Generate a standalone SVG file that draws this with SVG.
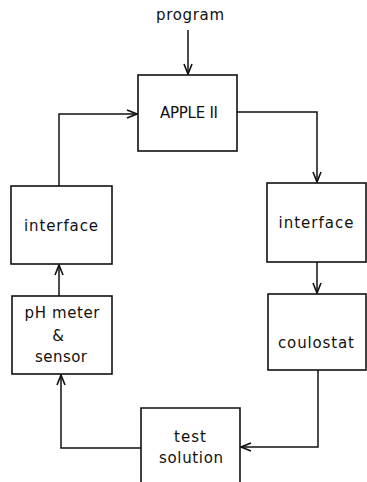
<svg xmlns="http://www.w3.org/2000/svg" width="367" height="482" viewBox="0 0 367 482">
<style>
.box{fill:none;stroke:#111;stroke-width:1.6}
.ln{fill:none;stroke:#111;stroke-width:1.5}
text{font-family:"DejaVu Sans","Liberation Sans",sans-serif;font-size:15px;fill:#111;text-anchor:middle}
</style>
<defs>
<marker id="arr" viewBox="0 0 12 10" refX="11" refY="5" markerWidth="12" markerHeight="10" markerUnits="userSpaceOnUse" orient="auto">
<path d="M1,1 L11,5 L1,9" fill="none" stroke="#111" stroke-width="1.6"/>
</marker>
</defs>
<rect width="367" height="482" fill="#fff"/>
<g id="program"><text x="190" y="20" textLength="68" lengthAdjust="spacing">program</text></g>
<g id="apple"><rect class="box" x="138" y="75" width="99" height="76"/><text x="189" y="118" textLength="58" lengthAdjust="spacing">APPLE II</text></g>
<g id="interface-left"><rect class="box" x="11" y="186" width="101" height="78"/><text x="61" y="231" textLength="74" lengthAdjust="spacing">interface</text></g>
<g id="interface-right"><rect class="box" x="267" y="183" width="99" height="79"/><text x="316" y="228" textLength="75" lengthAdjust="spacing">interface</text></g>
<g id="coulostat"><rect class="box" x="268" y="294" width="98" height="76"/><text x="316" y="348" textLength="76" lengthAdjust="spacing">coulostat</text></g>
<g id="ph"><rect class="box" x="12" y="296" width="100" height="78"/><text x="62" y="318" textLength="75" lengthAdjust="spacing">pH meter</text><text x="58" y="341">&amp;</text><text x="61" y="362" textLength="52" lengthAdjust="spacing">sensor</text></g>
<g id="test"><path class="box" d="M141,484 V408 H240 V484"/><text x="190" y="442" textLength="32" lengthAdjust="spacing">test</text><text x="191" y="463" textLength="64" lengthAdjust="spacing">solution</text></g>
<g id="connectors">
<path class="ln" d="M188,30 V74" marker-end="url(#arr)"/>
<path class="ln" d="M237,112 H317 V182" marker-end="url(#arr)"/>
<path class="ln" d="M317,262 V293" marker-end="url(#arr)"/>
<path class="ln" d="M318,370 V447 H241" marker-end="url(#arr)"/>
<path class="ln" d="M141,448 H61 V375" marker-end="url(#arr)"/>
<path class="ln" d="M59,296 V265" marker-end="url(#arr)"/>
<path class="ln" d="M59,186 V114 H137" marker-end="url(#arr)"/>
</g>
</svg>
